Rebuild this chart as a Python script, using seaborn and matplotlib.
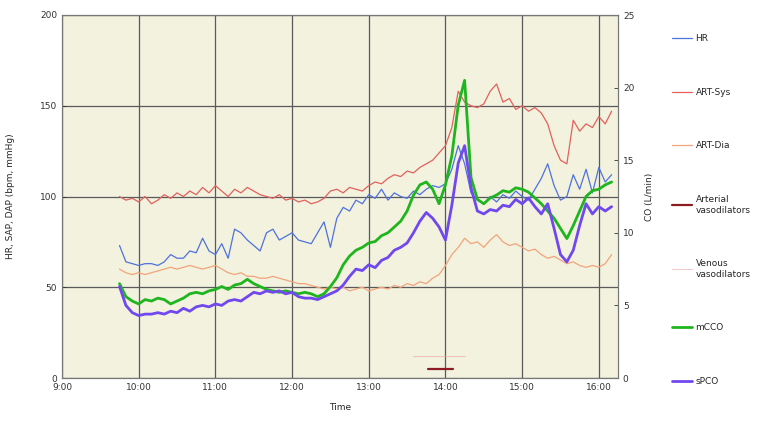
import numpy as np
import pandas as pd
import matplotlib
matplotlib.use("Agg")
import matplotlib.pyplot as plt
from matplotlib.ticker import FixedLocator, MultipleLocator
import seaborn as sns

# sample times: every 5 minutes from 9:45 to 16:10 (minutes after midnight)
minutes = np.arange(585, 971, 5)

hr = [73, 64, 63, 62, 63, 63, 62, 64, 68, 66, 66, 70, 69, 77, 70, 68, 74, 66, 82, 80,
      76, 73, 70, 80, 82, 76, 78, 80, 76, 75, 74, 80, 86, 72, 88, 94, 92, 98, 96, 101,
      99, 104, 98, 102, 100, 99, 103, 101, 104, 106, 105, 107, 115, 128, 118, 102, 98, 96, 100, 97,
      101, 99, 103, 100, 98, 104, 110, 118, 106, 98, 100, 112, 104, 115, 102, 116, 108, 112]

art_sys = [100, 98, 99, 97, 100, 96, 98, 101, 99, 102, 100, 103, 101, 105, 102, 106, 103, 100, 104, 102,
           105, 103, 101, 100, 99, 101, 98, 99, 97, 98, 96, 97, 99, 103, 104, 102, 105, 104, 103, 106,
           108, 107, 110, 112, 111, 114, 113, 116, 118, 120, 124, 128, 138, 158, 152, 150, 149, 151, 158, 162,
           152, 154, 148, 150, 147, 149, 146, 140, 128, 120, 118, 142, 136, 140, 138, 144, 140, 147]

art_dia = [60, 58, 57, 58, 57, 58, 59, 60, 61, 60, 61, 62, 61, 60, 61, 62, 60, 58, 57, 58,
           56, 56, 55, 55, 56, 55, 54, 53, 52, 52, 51, 50, 49, 50, 49, 50, 48, 49, 50, 48,
           49, 50, 49, 51, 50, 52, 51, 53, 52, 55, 57, 62, 68, 72, 77, 74, 75, 72, 76, 79,
           75, 73, 74, 72, 70, 71, 68, 66, 67, 65, 63, 64, 62, 61, 62, 61, 63, 68]

mcco = [6.5, 5.6, 5.3, 5.1, 5.4, 5.3, 5.5, 5.4, 5.1, 5.3, 5.5, 5.8, 5.9, 5.8, 6.0, 6.1, 6.3, 6.1, 6.4, 6.5,
        6.8, 6.5, 6.3, 6.1, 6.0, 5.9, 6.0, 5.9, 5.8, 5.9, 5.8, 5.6, 5.8, 6.3, 6.9, 7.8, 8.4, 8.8, 9.0, 9.3,
        9.4, 9.8, 10.0, 10.4, 10.8, 11.5, 12.6, 13.3, 13.5, 13.0, 12.0, 13.3, 15.3, 18.8, 20.5, 13.8, 12.3, 12.0, 12.4, 12.6,
        12.9, 12.8, 13.1, 13.0, 12.8, 12.4, 12.0, 11.5, 11.0, 10.3, 9.6, 10.5, 11.5, 12.5, 12.9, 13.0, 13.3, 13.5]

spco = [6.3, 5.0, 4.5, 4.3, 4.4, 4.4, 4.5, 4.4, 4.6, 4.5, 4.8, 4.6, 4.9, 5.0, 4.9, 5.1, 5.0, 5.3, 5.4, 5.3,
        5.6, 5.9, 5.8, 6.0, 5.9, 6.0, 5.8, 5.9, 5.6, 5.5, 5.5, 5.4, 5.6, 5.8, 6.0, 6.4, 7.0, 7.5, 7.4, 7.8,
        7.6, 8.1, 8.3, 8.8, 9.0, 9.3, 10.0, 10.8, 11.4, 11.0, 10.4, 9.5, 11.9, 14.8, 16.0, 13.1, 11.5, 11.3, 11.6, 11.5,
        11.9, 11.8, 12.3, 12.0, 12.4, 11.8, 11.3, 12.0, 10.3, 8.5, 8.0, 8.8, 10.5, 12.0, 11.3, 11.8, 11.5, 11.8]

# drug administration periods (start, end in minutes; level on the left axis)
arterial_min = [826, 846]
arterial_lvl = [5, 5]
venous_min = [815, 855]
venous_lvl = [12, 12]

tick_minutes = [540, 600, 660, 720, 780, 840, 900, 960]
tick_labels = ["9:00", "10:00", "11:00", "12:00", "13:00", "14:00", "15:00", "16:00"]

df = pd.DataFrame({"t": minutes, "HR": hr, "ART-Sys": art_sys, "ART-Dia": art_dia,
                   "mCCO": mcco, "sPCO": spco})

sns.set_style("white")
plt.rcParams["font.family"] = ["DejaVu Sans"]
fs = 6.5

fig = plt.figure(figsize=(7.6, 4.25), dpi=100)
ax = fig.add_axes([62 / 760, 1 - 378 / 425, (618 - 62) / 760, (378 - 15) / 425])
ax.set_facecolor("#f2f2df")
ax2 = ax.twinx()

c_hr = "#4f72dc"
c_sys = "#e2615c"
c_dia = "#f2a47a"
c_art = "#8b1c24"
c_ven = "#eaa6a6"
c_mcco = "#1fb51f"
c_spco = "#7048ee"

sns.lineplot(data=df, x="t", y="ART-Dia", ax=ax, color=c_dia, lw=0.9, label="ART-Dia", legend=False)
sns.lineplot(data=df, x="t", y="ART-Sys", ax=ax, color=c_sys, lw=0.9, label="ART-Sys", legend=False)
sns.lineplot(data=df, x="t", y="HR", ax=ax, color=c_hr, lw=0.9, label="HR", legend=False)
sns.lineplot(x=arterial_min, y=arterial_lvl, ax=ax, color=c_art, lw=1.6, label="Arterial\nvasodilators", legend=False)
sns.lineplot(x=venous_min, y=venous_lvl, ax=ax, color=c_ven, lw=0.8, alpha=0.6, label="Venous\nvasodilators", legend=False)
sns.lineplot(data=df, x="t", y="mCCO", ax=ax2, color=c_mcco, lw=2.0, label="mCCO", legend=False)
sns.lineplot(data=df, x="t", y="sPCO", ax=ax2, color=c_spco, lw=2.0, label="sPCO", legend=False)

ax.set_xlim(540, 975)
ax.set_ylim(0, 200)
ax2.set_ylim(0, 25)
ax.set_yticks([0, 50, 100, 150, 200])
ax2.set_yticks([0, 5, 10, 15, 20, 25])
ax.xaxis.set_major_locator(FixedLocator(tick_minutes))
ax.set_xticklabels(tick_labels)
ax.xaxis.set_minor_locator(MultipleLocator(15))

ax.set_axisbelow(True)
ax.grid(True, which="major", color="#5a5a5a", lw=0.9)
ax2.grid(False)

for a in (ax, ax2):
    a.tick_params(labelsize=fs, length=3, width=0.6, colors="#333333")
    for s in a.spines.values():
        s.set_color("#777777")
        s.set_linewidth(0.8)
ax.tick_params(axis="x", which="minor", direction="in", length=2, width=0.5, colors="#777777")
ax.tick_params(axis="both", which="major", direction="in")
ax2.tick_params(axis="y", direction="in")

ax.set_xlabel("Time", fontsize=fs, labelpad=8)
ax.set_ylabel("HR, SAP, DAP (bpm, mmHg)", fontsize=fs, labelpad=18)
ax2.set_ylabel("CO (L/min)", fontsize=fs, labelpad=8)

# legend on the right, one entry per series
h1, l1 = ax.get_legend_handles_labels()
h2, l2 = ax2.get_legend_handles_labels()
hmap = dict(zip(l1 + l2, h1 + h2))
order = ["HR", "ART-Sys", "ART-Dia", "Arterial\nvasodilators", "Venous\nvasodilators", "mCCO", "sPCO"]
fig.legend([hmap[k] for k in order], order, loc="upper left",
           bbox_to_anchor=(664 / 760, 1 - 26 / 425), frameon=False, fontsize=fs,
           handlelength=2.2, handletextpad=0.4, labelspacing=4.95)

fig.savefig("out.png", dpi=100)
